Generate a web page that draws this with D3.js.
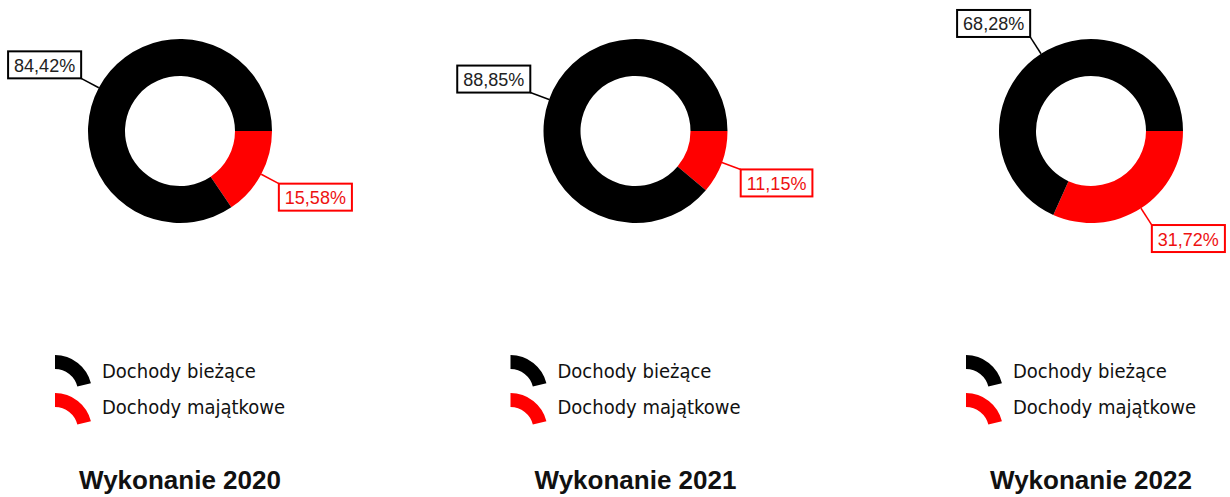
<!DOCTYPE html>
<html>
<head>
<meta charset="utf-8">
<script src="https://cdn.jsdelivr.net/npm/d3@7.9.0/dist/d3.min.js"></script>
<style>
  body { margin: 0; background: #fff; }
  svg { display: block; }
</style>
</head>
<body>
<svg id="chart" width="1230" height="497"></svg>
<script>
const years = ['2020', '2021', '2022'];
const biezace = [84.42, 88.85, 68.28];
const majatkowe = [15.58, 11.15, 31.72];
const seriesNames = ['Dochody bieżące', 'Dochody majątkowe'];
const seriesColors = ['#000000', '#ff0000'];

const svg = d3.select('#chart');
const plLocale = d3.formatLocale({ decimal: ',', thousands: ' ', grouping: [3], currency: ['', ' zł'] });
const fmt = v => plLocale.format('.2f')(v) + '%';

let xCenter = d3.scalePoint().domain(years).range([180, 1091]);
const cy = 131;
const outerR = 92, innerR = 55;

// red slice starts at 3 o'clock and runs clockwise, black fills the rest
let pie = d3.pie()
  .sort(null)
  .value(d => d.value)
  .startAngle(Math.PI / 2)
  .endAngle(Math.PI / 2 + 2 * Math.PI);

let arc = d3.arc().innerRadius(innerR).outerRadius(outerR);

years.forEach((year, i) => {
  let data = [
    { value: majatkowe[i], color: seriesColors[1] },
    { value: biezace[i], color: seriesColors[0] }
  ];
  let g = svg.append('g').attr('transform', `translate(${xCenter(year)},${cy})`);

  let arcs = pie(data);
  g.selectAll('path.slice')
    .data(arcs)
    .join('path')
      .attr('class', 'slice')
      .attr('d', arc)
      .attr('fill', d => d.data.color);

  arcs.forEach(d => {
    let mid = (d.startAngle + d.endAngle) / 2;
    let sx = Math.sin(mid), sy = -Math.cos(mid);
    let x0 = outerR * sx, y0 = outerR * sy;
    let x1 = 112 * sx, y1 = 112 * sy;
    let col = d.data.color === '#000000' ? '#000' : '#ff0000';

    g.append('line')
      .attr('x1', x0).attr('y1', y0)
      .attr('x2', x1).attr('y2', y1)
      .attr('stroke', col)
      .attr('stroke-width', 1.5);

    let lbl = g.append('g');
    let rect = lbl.append('rect');
    let txt = lbl.append('text')
      .attr('font-family', 'Liberation Sans, Arial, sans-serif')
      .attr('font-size', 18)
      .attr('fill', d.data.color === '#000000' ? '#222' : '#ee1111')
      .attr('dominant-baseline', 'central')
      .text(fmt(d.data.value));
    let tw = txt.node().getComputedTextLength();
    let bw = tw + 12, bh = 27;
    let bx = sx < 0 ? x1 - bw : x1;
    let by = sy < 0 ? y1 - bh : y1;
    rect.attr('x', bx).attr('y', by)
      .attr('width', bw).attr('height', bh)
      .attr('fill', '#fff')
      .attr('stroke', col)
      .attr('stroke-width', 2);
    txt.attr('x', bx + 6).attr('y', by + bh / 2 + 1);
  });

  // legend
  let legendArc = d3.arc().innerRadius(23).outerRadius(37).startAngle(0).endAngle(1.33);
  let lx = xCenter(year) - 125;
  seriesNames.forEach((name, j) => {
    let ly = 392 + j * 38;
    svg.append('path')
      .attr('transform', `translate(${lx},${ly})`)
      .attr('d', legendArc())
      .attr('fill', seriesColors[j]);
    svg.append('text')
      .attr('x', lx + 47)
      .attr('y', 378 + j * 36)
      .attr('font-family', 'DejaVu Sans Condensed, DejaVu Sans, sans-serif')
      .attr('font-stretch', 'condensed')
      .attr('font-size', 20)
      .attr('fill', '#111')
      .text(name);
  });

  svg.append('text')
    .attr('x', xCenter(year))
    .attr('y', 489)
    .attr('text-anchor', 'middle')
    .attr('font-family', 'Liberation Sans, Arial, sans-serif')
    .attr('font-weight', 'bold')
    .attr('font-size', 26)
    .attr('fill', '#111')
    .text('Wykonanie ' + year);
});
</script>
</body>
</html>
